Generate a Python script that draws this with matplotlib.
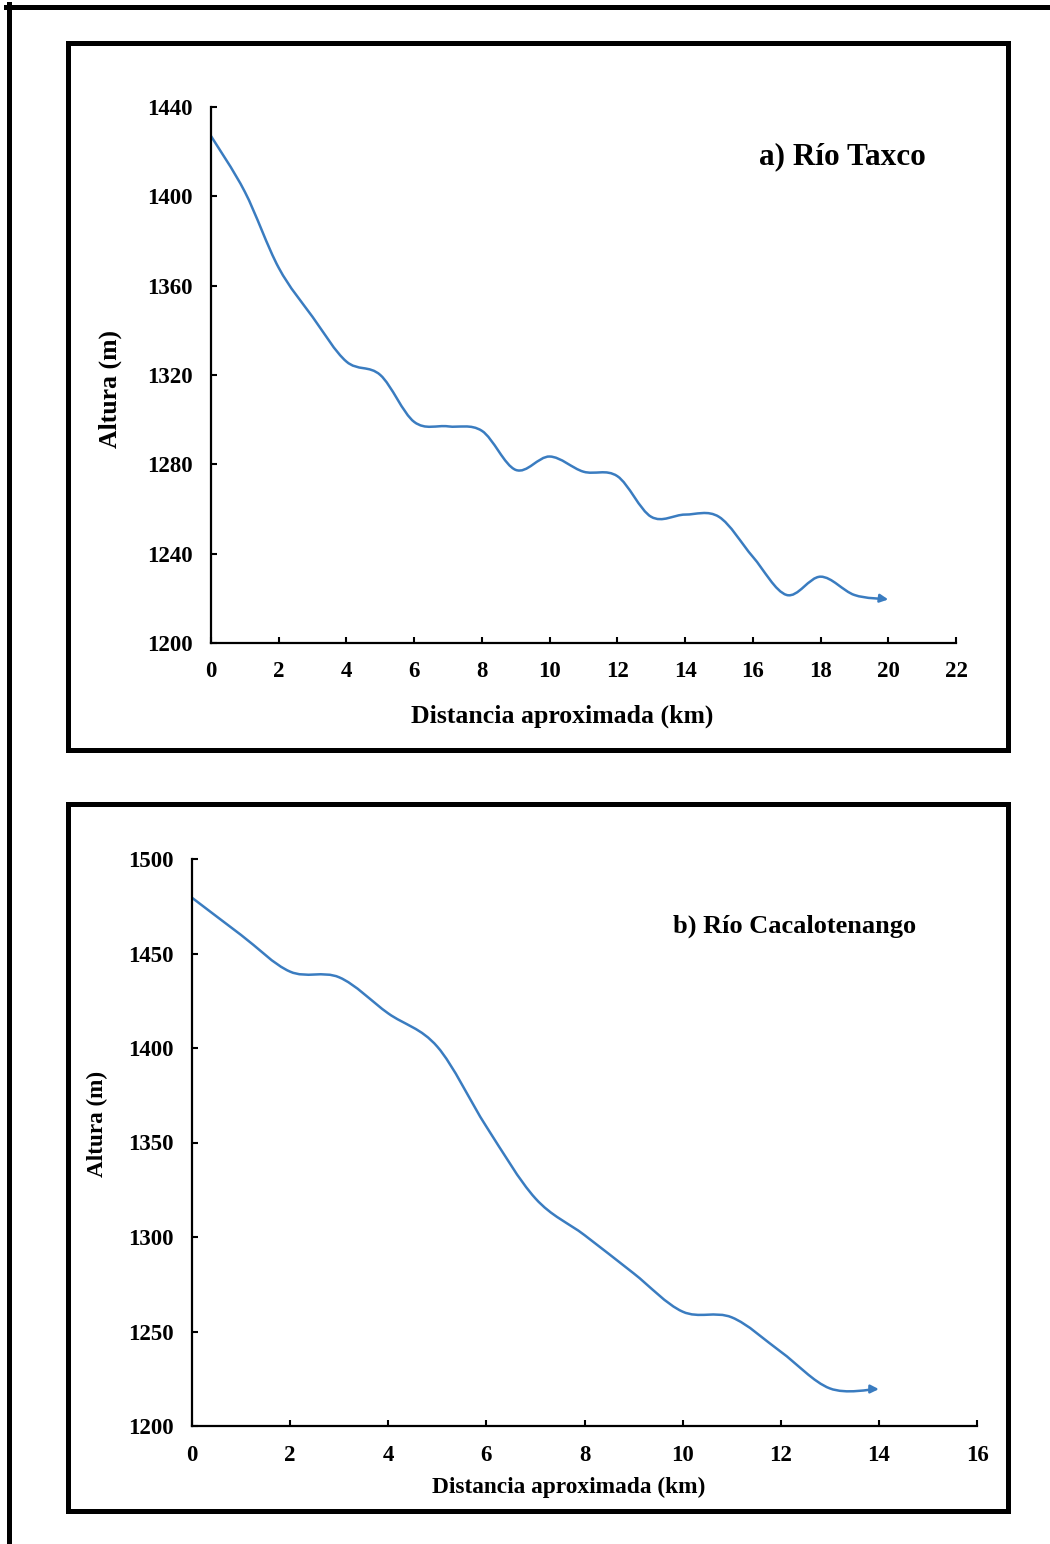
"""
Perfiles longitudinales: Río Taxco y Río Cacalotenango.
Curvas suavizadas tipo Excel (Bezier entre los puntos leídos).
"""
import numpy as np
import matplotlib.pyplot as plt
from matplotlib.path import Path
from matplotlib.patches import FancyArrowPatch, Rectangle
from matplotlib.lines import Line2D

# a) Río Taxco
taxco_km = [0, 1, 2, 3, 4, 5, 6, 7, 8, 9, 10, 11, 12, 13, 14, 15, 16, 17, 18, 19, 20]
taxco_alt = [1427, 1402, 1368, 1346, 1326, 1320, 1299, 1297, 1295, 1277.5, 1283.5,
             1276.7, 1274.7, 1256.5, 1257.5, 1256.5, 1238.6, 1221.5, 1229.7, 1221.5, 1219.5]

# b) Río Cacalotenango
cacal_km = [0, 1, 2, 3, 4, 5, 6, 7, 8, 9, 10, 11, 12, 13, 14]
cacal_alt = [1479.5, 1459.8, 1440.4, 1437.4, 1418.3, 1400.7, 1358.4, 1320.4,
             1301, 1280.8, 1260.5, 1257.5, 1239.3, 1219.9, 1219.5]

LINE_COLOR = '#3a7cc0'
BOLD_SERIF = dict(family='Liberation Serif', weight='bold')

plt.rcParams['font.family'] = 'Liberation Serif'
plt.rcParams['font.weight'] = 'bold'


def smooth_path(xs, ys):
    # Catmull-Rom -> cubic Bezier, like Excel "smoothed line"
    pts = np.column_stack([xs, ys]).astype(float)
    ext = np.vstack([pts[0], pts, pts[-1]])
    verts = [pts[0]]
    codes = [Path.MOVETO]
    for i in range(len(pts) - 1):
        p0, p1, p2, p3 = ext[i], ext[i + 1], ext[i + 2], ext[i + 3]
        verts += [p1 + (p2 - p0) / 6, p2 - (p3 - p1) / 6, p2]
        codes += [Path.CURVE4] * 3
    return Path(np.array(verts), codes)


def draw_profile(ax, xs, ys, xmax, ylim, ystep, fs_tick, xpad, ypad):
    arrow = FancyArrowPatch(path=smooth_path(xs, ys), arrowstyle='-|>',
                            mutation_scale=12, color=LINE_COLOR, lw=1.8)
    ax.add_patch(arrow)
    ax.set_xlim(0, xmax)
    ax.set_ylim(*ylim)
    ax.set_xticks(np.arange(0, xmax + 1, 2))
    ax.set_yticks(np.arange(ylim[0], ylim[1] + 1, ystep))
    for s in ['top', 'right']:
        ax.spines[s].set_visible(False)
    for s in ['left', 'bottom']:
        ax.spines[s].set_linewidth(1.6)
    ax.tick_params(direction='in', length=4.5, width=1.5, labelsize=fs_tick)
    ax.tick_params(axis='x', pad=xpad)
    ax.tick_params(axis='y', pad=ypad)
    for lab in ax.get_xticklabels() + ax.get_yticklabels():
        lab.set_fontweight('bold')


fig = plt.figure(figsize=(10.5, 15.44), dpi=100)

# outer frame (only top and left edges are inside the picture)
fig.add_artist(Line2D([6 / 1050, 1.0], [1 - 6.5 / 1544] * 2, lw=3.6,
                      color='black', transform=fig.transFigure))
fig.add_artist(Line2D([8.5 / 1050] * 2, [0, 1 - 4 / 1544], lw=3.6,
                      color='black', transform=fig.transFigure))

# panel boxes
fig.add_artist(Rectangle((67.5 / 1050, 1 - 750.5 / 1544), 940.5 / 1050, 707 / 1544,
                         fill=False, lw=3.6, ec='black', transform=fig.transFigure))
fig.add_artist(Rectangle((67.5 / 1050, 1 - 1510.5 / 1544), 940 / 1050, 707 / 1544,
                         fill=False, lw=3.6, ec='black', transform=fig.transFigure))

# panel a
ax1 = fig.add_axes([211 / 1050, 1 - 643 / 1544, 745 / 1050, 536 / 1544])
draw_profile(ax1, taxco_km, taxco_alt, 22, (1200, 1440), 40, 16.5, 13, 13)
ax1.set_xlabel('Distancia aproximada (km)', fontsize=18.5, va='center', **BOLD_SERIF)
ax1.xaxis.set_label_coords(0.471, -0.136)
ax1.set_ylabel('Altura (m)', fontsize=18.5, va='center', **BOLD_SERIF)
ax1.yaxis.set_label_coords(-0.1356, 0.474)
ax1.text(0.848, 0.907, 'a) Río Taxco', transform=ax1.transAxes, ha='center',
         va='center', fontsize=22.5, **BOLD_SERIF)

# panel b
ax2 = fig.add_axes([192 / 1050, 1 - 1426 / 1544, 785 / 1050, 567 / 1544])
draw_profile(ax2, cacal_km, cacal_alt, 16, (1200, 1500), 50, 16.5, 14, 13)
ax2.set_xlabel('Distancia aproximada (km)', fontsize=16.8, va='center', **BOLD_SERIF)
ax2.xaxis.set_label_coords(0.480, -0.109)
ax2.set_ylabel('Altura (m)', fontsize=16.7, va='center', **BOLD_SERIF)
ax2.yaxis.set_label_coords(-0.120, 0.533)
ax2.text(0.767, 0.882, 'b) Río Cacalotenango', transform=ax2.transAxes, ha='center',
         va='center', fontsize=19, **BOLD_SERIF)

fig.savefig('out.png', dpi=100)
plt.close(fig)
